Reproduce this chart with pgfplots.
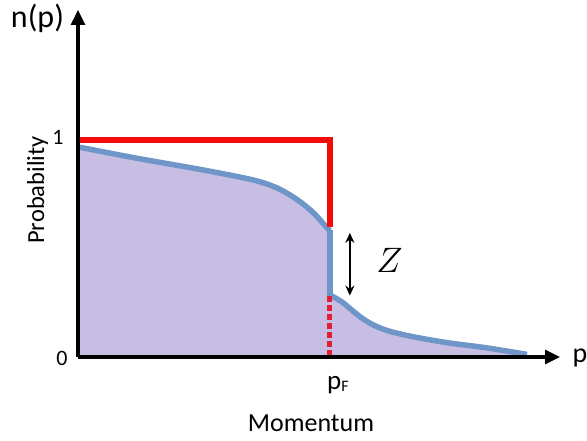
\documentclass[border=0pt]{standalone}
\usepackage{pgfplots}
\pgfplotsset{compat=1.18}
\usetikzlibrary{arrows.meta}
\usepackage{fontspec}
\setmainfont{Carlito}
\definecolor{curveblue}{RGB}{110,150,200}
\definecolor{fillpurple}{RGB}{200,190,228}
\definecolor{redline}{RGB}{245,10,10}
\definecolor{reddash}{RGB}{225,30,50}
\pgfplotstableread{
x y
0 0.968
0.233 0.916
0.496 0.862
0.694 0.816
0.790 0.779
0.869 0.726
0.933 0.666
0.988 0.596
1 0.581
}\leftpart
\pgfplotstableread{
x y
1 0.286
1.046 0.255
1.086 0.217
1.126 0.180
1.165 0.152
1.205 0.131
1.245 0.116
1.310 0.098
1.377 0.083
1.483 0.063
1.623 0.042
1.782 0.012
}\rightpart
\begin{document}
\begin{tikzpicture}
\begin{axis}[
  at={(0pt,0pt)}, anchor=south west,
  scale only axis, width=482pt, height=347pt,
  xmin=0, xmax=1.913, ymin=0, ymax=1.599,
  axis x line=bottom, axis y line=left,
  axis line style={line width=3.2pt, -{Triangle[length=15pt,width=14pt]}},
  xtick=\empty, ytick=\empty,
  axis on top=true,
  clip=false,
]
% fill under curve
\addplot[fill=fillpurple, draw=none, smooth] table {\leftpart} \closedcycle;
\addplot[fill=fillpurple, draw=none, smooth] table {\rightpart} \closedcycle;
% blue curve
\addplot[curveblue, line width=5.5pt, smooth] table {\leftpart};
\addplot[curveblue, line width=5.5pt] coordinates {(1,0.584) (1,0.283)};
\addplot[curveblue, line width=5.5pt, smooth] table {\rightpart};
% red step
\addplot[redline, line width=6pt, line join=miter] coordinates {(0,1) (1,1) (1,0.599)};
\addplot[reddash, line width=5pt, dash pattern=on 6pt off 3pt] coordinates {(1,0.280) (1,0)};
% Z arrow
\addplot[black, line width=1.8pt, {Stealth[length=10pt,width=9pt]}-{Stealth[length=10pt,width=9pt]}] coordinates {(1.079,0.572) (1.079,0.283)};
\node[scale=1.42] at (axis cs:1.236,0.447) {\fontsize{24.88}{30}\selectfont$Z$};
\end{axis}
\node[anchor=base] at (-40.5pt,329pt) {\fontsize{32}{32}\selectfont n(p)};
\node[anchor=base] at (-20pt,212pt) {\fontsize{22}{22}\selectfont 1};
\node[anchor=base] at (-16pt,-9pt) {\fontsize{22}{22}\selectfont 0};
\node[rotate=90] at (-40.5pt,167pt) {\fontsize{24.5}{24.5}\selectfont Probability};
\node[anchor=base] at (260pt,-33pt) {\fontsize{27}{27}\selectfont p\raisebox{-2pt}{\fontsize{16}{16}\selectfont F}};
\node[anchor=base] at (233pt,-75pt) {\fontsize{26}{26}\selectfont Momentum};
\node[anchor=base] at (502pt,-6pt) {\fontsize{28}{28}\selectfont p};
\pgfresetboundingbox
\path (-78pt,-84pt) rectangle (509pt,357pt);
\end{tikzpicture}
\end{document}
